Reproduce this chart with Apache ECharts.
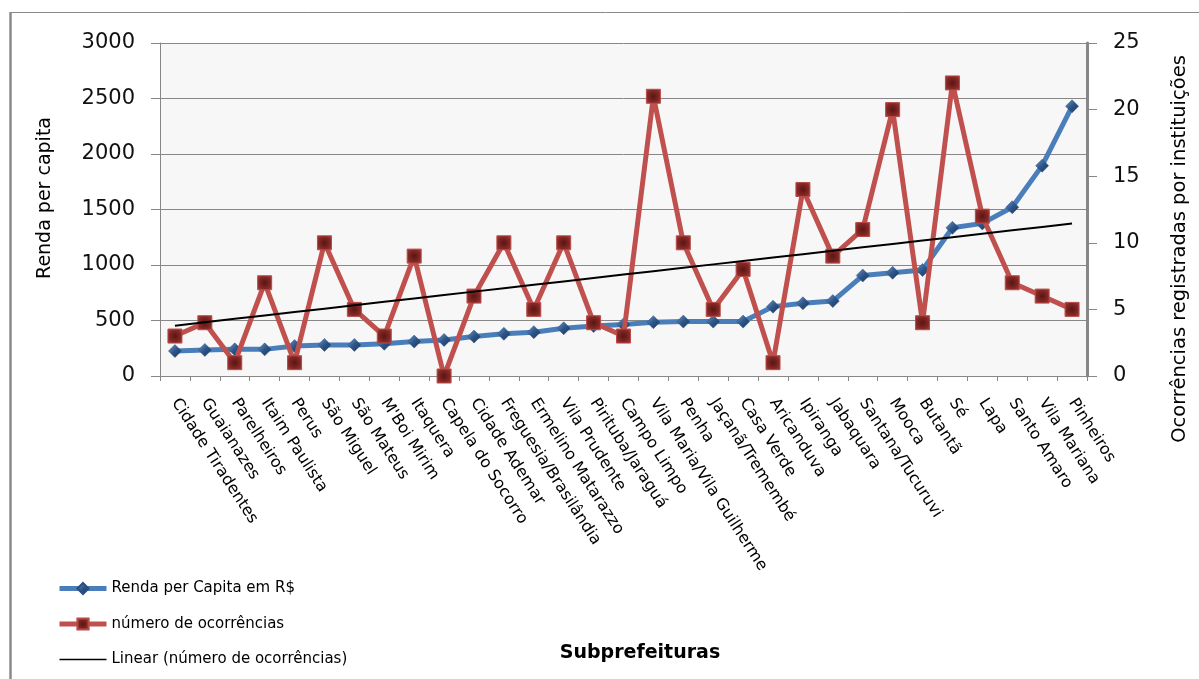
<!DOCTYPE html>
<html>
<head>
<meta charset="utf-8">
<script src="https://cdn.jsdelivr.net/npm/echarts@6/dist/echarts.min.js"></script>
<style>
  html, body { margin: 0; padding: 0; background: #ffffff; }
  #chart { width: 1199px; height: 679px; }
</style>
</head>
<body>
<div id="chart"></div>
<script>
// Subprefeituras de São Paulo, ordered by per-capita income
const subprefeituras = [
  'Cidade Tiradentes', 'Guaianazes', 'Parelheiros', 'Itaim Paulista', 'Perus',
  'São Miguel', 'São Mateus', "M'Boi Mirim", 'Itaquera', 'Capela do Socorro',
  'Cidade Ademar', 'Freguesia/Brasilândia', 'Ermelino Matarazzo', 'Vila Prudente',
  'Pirituba/Jaraguá', 'Campo Limpo', 'Vila Maria/Vila Guilherme', 'Penha',
  'Jaçanã/Tremembé', 'Casa Verde', 'Aricanduva', 'Ipiranga', 'Jabaquara',
  'Santana/Tucuruvi', 'Mooca', 'Butantã', 'Sé', 'Lapa', 'Santo Amaro',
  'Vila Mariana', 'Pinheiros'
];

// Renda per capita em R$
const rendaPerCapita = [
  225, 235, 240, 240, 270, 280, 280, 290, 310, 325,
  355, 380, 395, 430, 450, 465, 485, 490, 490, 490,
  625, 655, 675, 905, 930, 955, 1335, 1375, 1520, 1895, 2430
];

// Número de ocorrências registradas por instituições
const ocorrencias = [
  3, 4, 1, 7, 1, 10, 5, 3, 9, 0,
  6, 10, 5, 10, 4, 3, 21, 10, 5, 8,
  1, 14, 9, 11, 20, 4, 22, 12, 7, 6, 5
];

// Axis scales
const rendaAxis = { min: 0, max: 3000, interval: 500 };
const ocorrAxis = { min: 0, max: 25, interval: 5 };

// Least-squares linear trend of the occurrences (x = 1..n)
function linearTrend(values) {
  const n = values.length;
  let sx = 0, sy = 0, sxy = 0, sxx = 0;
  values.forEach((y, i) => {
    const x = i + 1;
    sx += x; sy += y; sxy += x * y; sxx += x * x;
  });
  const b = (n * sxy - sx * sy) / (n * sxx - sx * sx);
  const a = (sy - b * sx) / n;
  return values.map((_, i) => +(a + b * (i + 1)).toFixed(4));
}
const tendencia = linearTrend(ocorrencias);

const FONT = 'DejaVu Sans';
const GRID_COLOR = '#878787';
const SERIES_NAMES = ['Renda per Capita em R$', 'número de ocorrências', 'Linear (número de ocorrências)'];

const chart = echarts.init(document.getElementById('chart'), null, { renderer: 'canvas' });

const diamondFill = new echarts.graphic.LinearGradient(0, 0, 1, 1, [
  { offset: 0, color: '#6d98cf' },
  { offset: 0.5, color: '#2d5587' },
  { offset: 1, color: '#1a365c' }
]);
const squareFill = new echarts.graphic.RadialGradient(0.5, 0.5, 0.75, [
  { offset: 0, color: '#5a1513' },
  { offset: 0.6, color: '#8a2b28' },
  { offset: 1, color: '#c4524e' }
]);

chart.setOption({
  animation: false,
  backgroundColor: '#ffffff',
  textStyle: { fontFamily: FONT },
  grid: {
    left: 160, right: 112, top: 43, bottom: 303,
    show: true, backgroundColor: '#f7f7f7', borderWidth: 0,
    outerBoundsMode: 'none'
  },
  legend: {
    orient: 'vertical',
    left: 52, top: 576,
    itemWidth: 47, itemHeight: 14, itemGap: 20.5,
    textStyle: { fontFamily: FONT, fontSize: 15, color: '#000000' },
    data: [
      { name: SERIES_NAMES[0], lineStyle: { width: 5 } },
      { name: SERIES_NAMES[1], lineStyle: { width: 5 } },
      { name: SERIES_NAMES[2], lineStyle: { width: 1.5 }, itemStyle: { opacity: 0 } }
    ]
  },
  xAxis: {
    type: 'category',
    data: subprefeituras,
    boundaryGap: true,
    axisLine: { show: true, lineStyle: { color: GRID_COLOR, width: 1 } },
    axisTick: { show: true, length: 5, inside: false, lineStyle: { color: GRID_COLOR } },
    axisLabel: {
      interval: 0, rotate: -57, margin: 24,
      fontFamily: FONT, fontSize: 16, color: '#000000'
    },
    splitLine: { show: false }
  },
  yAxis: [
    {
      type: 'value',
      min: rendaAxis.min, max: rendaAxis.max, interval: rendaAxis.interval,
      position: 'left',
      axisLine: { show: true, lineStyle: { color: GRID_COLOR, width: 1 } },
      axisTick: { show: true, length: 9, lineStyle: { color: GRID_COLOR } },
      axisLabel: {
        margin: 25, fontFamily: FONT, fontSize: 21, color: '#111111',
        formatter: (v) => String(v)
      },
      splitLine: { show: true, lineStyle: { color: GRID_COLOR, width: 1 } }
    },
    {
      type: 'value',
      min: ocorrAxis.min, max: ocorrAxis.max, interval: ocorrAxis.interval,
      position: 'right',
      axisLine: { show: true, lineStyle: { color: GRID_COLOR, width: 3 } },
      axisTick: { show: true, length: 10, lineStyle: { color: GRID_COLOR } },
      axisLabel: {
        margin: 26, fontFamily: FONT, fontSize: 21, color: '#111111',
        formatter: (v) => String(v)
      },
      splitLine: { show: false }
    }
  ],
  series: [
    {
      name: SERIES_NAMES[0],
      type: 'line',
      yAxisIndex: 0,
      data: rendaPerCapita,
      symbol: 'diamond',
      symbolSize: 13,
      lineStyle: { color: '#4a7ebb', width: 5 },
      itemStyle: { color: diamondFill, borderColor: '#2a4f7e', borderWidth: 0.5 },
      z: 2
    },
    {
      name: SERIES_NAMES[1],
      type: 'line',
      yAxisIndex: 1,
      data: ocorrencias,
      symbol: 'rect',
      symbolSize: 14,
      lineStyle: { color: '#c0504d', width: 5 },
      itemStyle: { color: squareFill, borderColor: '#b84a47', borderWidth: 1 },
      z: 3
    },
    {
      name: SERIES_NAMES[2],
      type: 'line',
      yAxisIndex: 1,
      data: tendencia,
      symbol: 'none',
      lineStyle: { color: '#000000', width: 2 },
      itemStyle: { color: '#000000' },
      z: 4
    }
  ],
  graphic: [
    // chart frame (top and left edges)
    {
      type: 'polyline', silent: true,
      shape: { points: [[10.5, 700], [10.5, 12.5], [1250, 12.5]] },
      style: { stroke: '#8a8a8a', lineWidth: 1, fill: null }
    },
    {
      type: 'line', silent: true,
      shape: { x1: 10.5, y1: 12, x2: 10.5, y2: 700 },
      style: { stroke: '#8a8a8a', lineWidth: 2.5 }
    },
    // axis titles
    {
      type: 'text', silent: true,
      x: 45, y: 198, rotation: Math.PI / 2,
      style: {
        text: 'Renda per capita', fill: '#000000',
        font: '19px "DejaVu Sans"', align: 'center', verticalAlign: 'middle'
      }
    },
    {
      type: 'text', silent: true,
      x: 1180, y: 249, rotation: Math.PI / 2,
      style: {
        text: 'Ocorrências registradas por instituições', fill: '#000000',
        font: '19.5px "DejaVu Sans"', align: 'center', verticalAlign: 'middle'
      }
    },
    {
      type: 'text', silent: true,
      x: 640, y: 653,
      style: {
        text: 'Subprefeituras', fill: '#000000',
        font: 'bold 19px "DejaVu Sans"', align: 'center', verticalAlign: 'middle'
      }
    }
  ]
});
</script>
</body>
</html>
